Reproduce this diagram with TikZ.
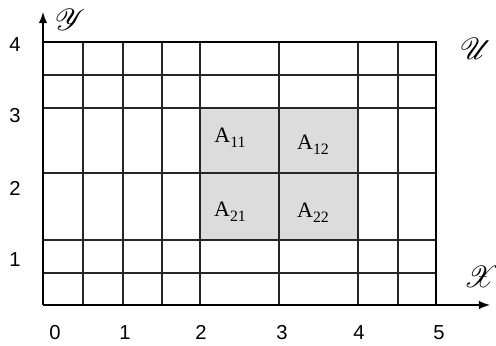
\documentclass[tikz,border=0pt]{standalone}
\usepackage{fontspec}
\usepackage{mathrsfs}
\setmainfont{Liberation Serif}
\newfontfamily\arial{Liberation Sans}
\definecolor{celda}{RGB}{220,220,220}
\tikzset{
  rejilla/.style={line width=0.6pt, color=black!85},
  marco/.style={line width=1.2pt},
  eje/.style={line width=1.2pt, -latex},
  numero/.style={font=\arial\fontsize{11.5}{13}\selectfont, anchor=base},
  celdatxt/.style={font=\fontsize{12.5}{14}\selectfont},
  conjunto/.style={font=\fontsize{19}{22}\selectfont}
}
\newcommand{\Asub}[1]{A\raisebox{-0.45ex}{\small #1}}
\begin{document}
\begin{tikzpicture}[x=0.02cm, y=0.02cm]
\useasboundingbox (0,0) rectangle (496,345);

		%Rellena las celdas A
		\fill[celda] (200,105) rectangle (358,237);

		%Lineas verticales de la rejilla
		\draw[rejilla] (83,40) -- (83,303) (123,40) -- (123,303) (162,40) -- (162,303)
		  (200,40) -- (200,303) (279,40) -- (279,303) (358,40) -- (358,303) (398,40) -- (398,303);
		%Lineas horizontales de la rejilla
		\draw[rejilla] (43,270) -- (436,270) (43,237) -- (436,237) (43,172) -- (436,172)
		  (43,105) -- (436,105) (43,72) -- (436,72);

		%Marco del conjunto U
		\draw[marco] (43,303) -- (436,303) -- (436,40);

		%Dibuja los ejes
		\coordinate (O) at (43,40);
		\coordinate (ejex) at (490,40);
		\coordinate (ejey) at (43,333);
		\draw[eje] (O) -- (ejex);
		\draw[eje] (O) -- (ejey);

		%Nombres de los ejes y del conjunto
		\node[conjunto] (Y) at (70,325) {$\mathscr{Y}$};
		\node[conjunto] (X) at (482,68) {$\mathscr{X}$};
		\node[conjunto] (U) at (476,296) {$\mathscr{U}$};

		%Numeros del eje x
		\node[numero] (x0) at (55,6) {0};
		\node[numero] (x1) at (125,6) {1};
		\node[numero] (x2) at (201,6) {2};
		\node[numero] (x3) at (282,6) {3};
		\node[numero] (x4) at (359,6) {4};
		\node[numero] (x5) at (439,6) {5};
		%Numeros del eje y
		\node[numero] (y1) at (15,79) {1};
		\node[numero] (y2) at (15,150) {2};
		\node[numero] (y3) at (15,222) {3};
		\node[numero] (y4) at (15,293) {4};

		%Etiquetas de las celdas
		\node[celdatxt] (a11) at (230,207) {\Asub{11}};
		\node[celdatxt] (a12) at (313,200) {\Asub{12}};
		\node[celdatxt] (a21) at (230,133) {\Asub{21}};
		\node[celdatxt] (a22) at (313,132) {\Asub{22}};

\end{tikzpicture}
\end{document}
